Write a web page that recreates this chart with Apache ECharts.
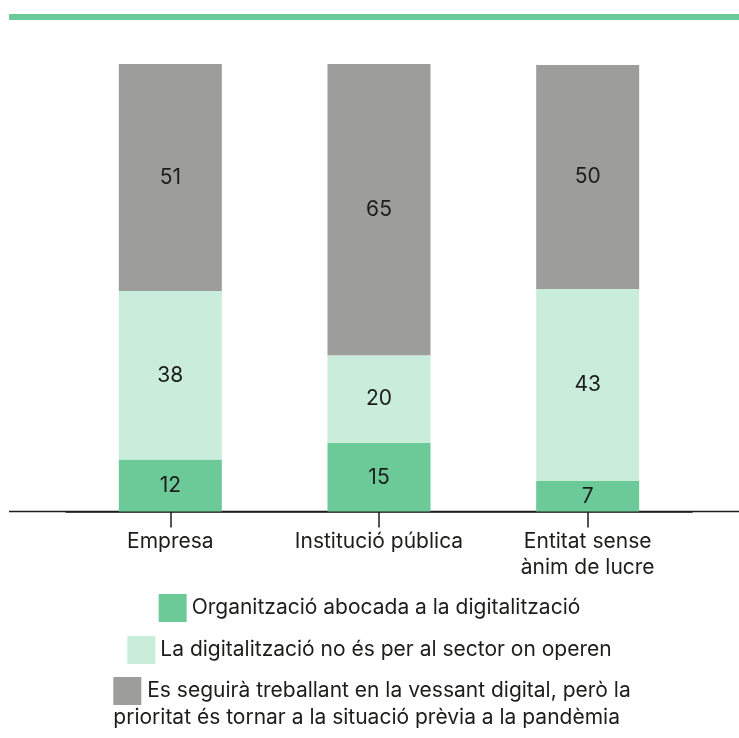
<!DOCTYPE html>
<html>
<head>
<meta charset="utf-8">
<script src="https://cdn.jsdelivr.net/npm/echarts@6/dist/echarts.min.js"></script>
<style>
  html, body { margin: 0; padding: 0; background: #fff; }
  #chart { width: 739px; height: 738px; }
</style>
</head>
<body>
<div id="chart"></div>
<script>
// categories (x axis)
const categories = ['Empresa', 'Institució pública', 'Entitat sense\nànim de lucre'];

// series names
const nameDigital = 'Organització abocada a la digitalització';
const nameNoSector = 'La digitalització no és per al sector on operen';
const namePrevia = 'Es seguirà treballant en la vessant digital, però la prioritat és tornar a la situació prèvia a la pandèmia';

// shares in % (labels show them rounded)
const valuesDigital = [11.6, 15.3, 6.8];
const valuesNoSector = [37.7, 19.6, 42.9];
const valuesPrevia = [50.7, 65.1, 50.1];

const colGreen = '#6cca98';
const colLight = '#c9ecdb';
const colGrey = '#9d9d9c';
const colText = '#1d1d1b';
const font = 'Inter';
const fontSize = 21;

const chart = echarts.init(document.getElementById('chart'), null, {renderer: 'canvas'});

function barSeries(name, data, color) {
  return {
    name: name,
    type: 'bar',
    stack: 'total',
    barWidth: 103,
    data: data,
    itemStyle: {color: color},
    label: {
      show: true,
      position: 'inside',
      fontFamily: font,
      fontSize: fontSize,
      color: colText,
      formatter: p => Math.round(p.value)
    }
  };
}

const legendBase = {
  left: 'center',
  orient: 'horizontal',
  padding: 0,
  itemWidth: 28,
  itemHeight: 28,
  icon: 'rect',
  selectedMode: false,
  textStyle: {fontFamily: font, fontSize: fontSize, color: colText}
};

chart.setOption({
  animation: false,
  grid: {left: 66, right: 47, top: 64, bottom: 226.5, containLabel: false},
  xAxis: {
    type: 'category',
    data: categories,
    axisLine: {show: true, lineStyle: {color: colText, width: 1.5}},
    axisTick: {show: true, interval: 0, alignWithLabel: true, length: 16, lineStyle: {color: colText, width: 1.5}},
    axisLabel: {
      interval: 0,
      hideOverlap: false,
      margin: 17,
      fontFamily: font,
      fontSize: fontSize,
      lineHeight: 26,
      color: colText,
      align: 'center'
    }
  },
  yAxis: {
    type: 'value',
    min: 0,
    max: 100,
    show: false,
    splitLine: {show: false}
  },
  legend: [
    Object.assign({}, legendBase, {top: 594, data: [nameDigital]}),
    Object.assign({}, legendBase, {top: 636, data: [nameNoSector]}),
    Object.assign({}, legendBase, {
      top: 677,
      data: [namePrevia],
      icon: 'none',
      itemWidth: 0,
      itemHeight: 0,
      formatter: function (name) {
        const cut = name.indexOf('prioritat');
        return '{box|}{t| ' + name.slice(0, cut).trim() + '}\n{t|' + name.slice(cut) + '}';
      },
      textStyle: {
        fontFamily: font,
        fontSize: fontSize,
        color: colText,
        rich: {
          box: {width: 28, height: 28, lineHeight: 28, backgroundColor: colGrey},
          t: {fontFamily: font, fontSize: fontSize, color: colText, lineHeight: 26}
        }
      }
    })
  ],
  graphic: [
    {
      type: 'rect',
      left: 9,
      top: 14,
      shape: {width: 730, height: 6},
      style: {fill: colGreen},
      silent: true
    },
    {
      type: 'line',
      shape: {x1: 9, y1: 511.5, x2: 739, y2: 511.5},
      style: {stroke: colText, lineWidth: 1.5},
      silent: true
    }
  ],
  series: [
    barSeries(nameDigital, valuesDigital, colGreen),
    barSeries(nameNoSector, valuesNoSector, colLight),
    barSeries(namePrevia, valuesPrevia, colGrey)
  ]
});
</script>
</body>
</html>
